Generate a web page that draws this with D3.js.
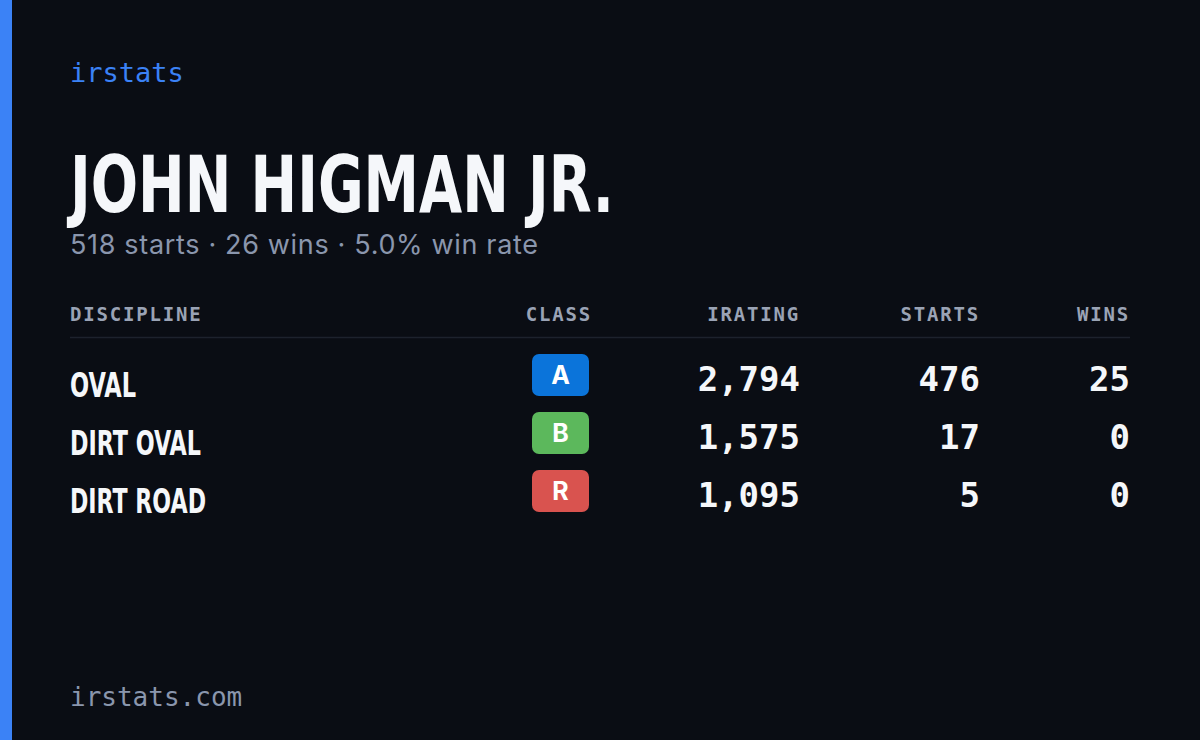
<!DOCTYPE html>
<html><head><meta charset="utf-8">
<script src="https://cdn.jsdelivr.net/npm/d3@7"></script>
<style>body{margin:0;background:#0a0d14}</style>
</head><body>
<svg id="c" width="1200" height="740"></svg>
<script>
const disciplines = ['OVAL', 'DIRT OVAL', 'DIRT ROAD'];
const classes = ['A', 'B', 'R'];
const iratings = [2794, 1575, 1095];
const starts = [476, 17, 5];
const wins = [25, 0, 0];
const headers = ['DISCIPLINE', 'CLASS', 'IRATING', 'STARTS', 'WINS'];
const classColors = {A: '#0b74da', B: '#5cb85c', R: '#d9534f'};

const mono = '"DejaVu Sans Mono", monospace';
const cond = '"Liberation Sans Narrow", "DejaVu Sans Condensed", sans-serif';
const svg = d3.select('#c');
svg.append('rect').attr('width', 1200).attr('height', 740).attr('fill', '#0a0d14');
svg.append('rect').attr('width', 12).attr('height', 740).attr('fill', '#3b82f6');

svg.append('text').attr('x', 70).attr('y', 82).text('irstats')
  .attr('font-family', mono).attr('font-size', 27).attr('fill', '#3b82f6');
svg.append('text').attr('x', 70).attr('y', 212).text('JOHN HIGMAN JR.')
  .attr('font-family', cond).attr('font-weight', 'bold').attr('font-size', 78)
  .attr('fill', '#f5f7fa').attr('textLength', 544).attr('lengthAdjust', 'spacingAndGlyphs');
svg.append('text').attr('x', 70).attr('y', 254).text('518 starts · 26 wins · 5.0% win rate')
  .attr('font-family', 'Inter, sans-serif').attr('font-size', 27).attr('fill', '#8a96ad')
  .attr('textLength', 468).attr('lengthAdjust', 'spacing');

const y = d3.scalePoint().domain(disciplines).range([393, 509]);
const colX = [70, 592, 800, 980, 1130];
const anchors = ['start', 'end', 'end', 'end', 'end'];

svg.selectAll('.hdr').data(headers).join('text')
  .attr('x', (d, i) => colX[i]).attr('y', 321).attr('text-anchor', (d, i) => anchors[i])
  .text(d => d).attr('font-family', mono).attr('font-weight', 'bold').attr('font-size', 19)
  .attr('fill', '#9aa3b5').attr('letter-spacing', 1.8);
svg.append('line').attr('x1', 70).attr('x2', 1130).attr('y1', 337.5).attr('y2', 337.5)
  .attr('stroke', '#1d222d').attr('stroke-width', 1.5);

const fmt = d3.format(',');
const rows = svg.selectAll('.row').data(disciplines).join('g')
  .attr('transform', d => `translate(0,${y(d)})`);
rows.append('text').attr('x', 70).attr('y', 4).text(d => d)
  .attr('font-family', cond).attr('font-weight', 'bold').attr('font-size', 33)
  .attr('fill', '#f5f7fa').attr('textLength', (d, i) => [66, 131, 136][i]).attr('lengthAdjust', 'spacingAndGlyphs');
rows.append('rect').attr('x', 532).attr('y', -39).attr('width', 57).attr('height', 42).attr('rx', 7)
  .attr('fill', (d, i) => classColors[classes[i]]);
rows.append('text').attr('x', 560.5).attr('y', -9).attr('text-anchor', 'middle')
  .text((d, i) => classes[i]).attr('font-family', 'Inter, sans-serif').attr('font-weight', 'bold')
  .attr('font-size', 25).attr('fill', '#fff');
const nums = [iratings.map(fmt), starts.map(String), wins.map(String)];
nums.forEach((col, c) => {
  rows.append('text').attr('x', colX[c + 2]).attr('y', -2).attr('text-anchor', 'end')
    .text((d, i) => col[i]).attr('font-family', mono).attr('font-weight', 'bold')
    .attr('font-size', 34).attr('fill', '#f5f7fa');
});

svg.append('text').attr('x', 70).attr('y', 706).text('irstats.com')
  .attr('font-family', mono).attr('font-size', 26).attr('fill', '#8a96ad');
</script>
</body></html>
